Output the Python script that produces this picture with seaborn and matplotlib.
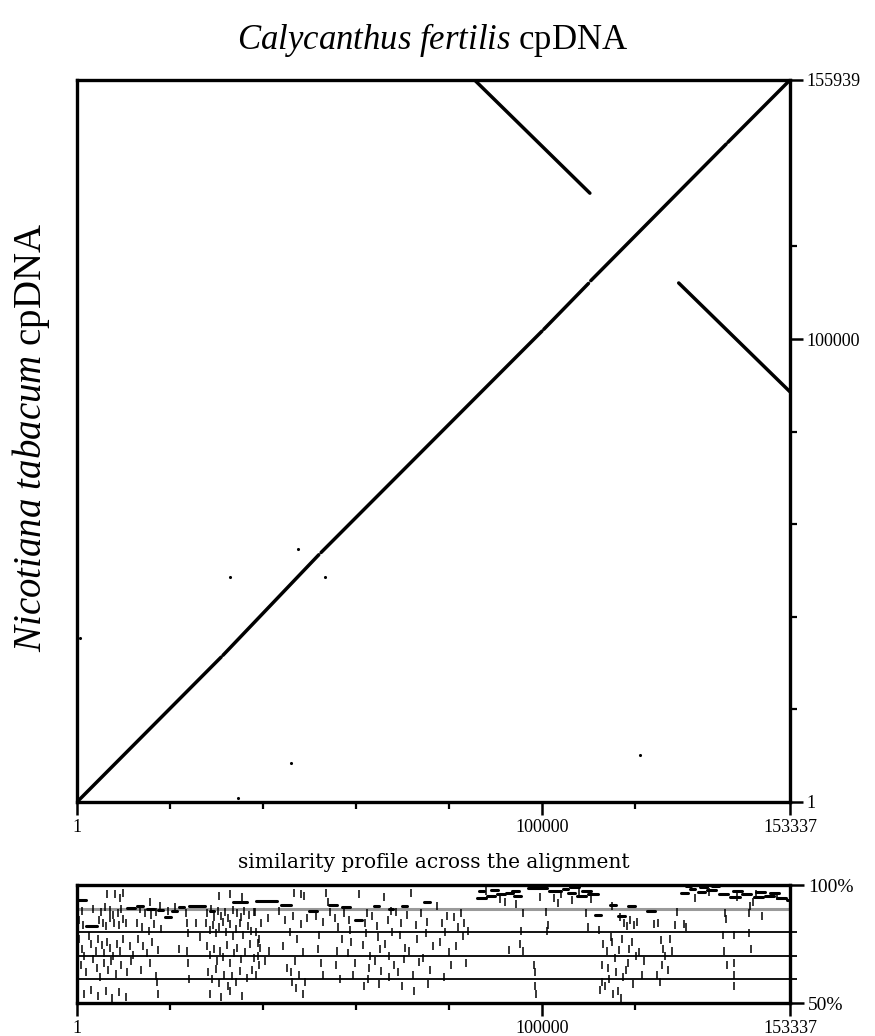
import matplotlib
matplotlib.use("Agg")
import matplotlib.pyplot as plt
import numpy as np
import pandas as pd
import seaborn as sns

# ---------------- data ----------------
X_LEN = 153337   # Calycanthus fertilis cpDNA length
Y_LEN = 155939   # Nicotiana tabacum cpDNA length

x_ticks_major = [1, 100000, 153337]
x_ticks_minor = [20000, 40000, 60000, 80000, 120000]
y_ticks_major = [1, 100000, 155939]
y_ticks_minor = [20000, 40000, 60000, 80000, 120000]
x_tick_labels = ["1", "100000", "153337"]
y_tick_labels = ["1", "100000", "155939"]

# dot-plot alignment segments (kb): main diagonal pieces + inverted repeats
seg_x_start = [0.0, 31.4, 52.5, 100.4, 110.5, 140.0, 85.5, 129.4]
seg_x_end   = [31.0, 52.0, 100.0, 110.0, 139.6, 153.337, 110.3, 153.337]
seg_y_start = [0.0, 31.7, 53.9, 102.1, 112.6, 142.5, 155.939, 112.1]
seg_y_end   = [31.3, 53.4, 101.7, 112.0, 142.1, 155.939, 131.5, 88.6]

# isolated small matches (kb)
speck_x = [32.9, 47.5, 53.3, 46.0, 121.1, 34.6, 0.6]
speck_y = [48.6, 54.6, 48.6, 8.4, 10.2, 0.9, 35.4]

# similarity profile: longer gap-free segments (kb start, kb end, % identity)
prof_seg_start = [0.0, 2.0, 10.7, 13.0, 15.0, 17.5, 18.9, 20.5, 22.0, 24.0, 28.5, 33.5,
                  38.6, 43.8, 49.9, 54.2, 56.9, 59.7, 63.9, 67.0, 70.0, 74.6, 86.0, 88.2,
                  90.3, 92.2, 94.0, 97.0, 101.5, 105.5, 107.5, 110.0, 111.5, 114.6, 116.4,
                  118.5, 122.5, 130.0, 131.8, 133.5, 135.5, 138.0, 140.5, 143.0, 145.5,
                  148.0, 150.5, 152.6,
                  86.5, 89.0, 93.5, 99.0, 104.5, 106.0, 108.5, 131.0, 134.0, 136.5,
                  141.0, 146.0, 149.0]
prof_seg_end = [2.0, 4.3, 12.5, 14.2, 16.5, 18.5, 20.2, 21.5, 23.0, 27.5, 29.5, 36.5,
                43.0, 46.0, 51.7, 56.0, 58.7, 61.2, 65.0, 68.0, 71.0, 76.0, 88.0, 90.0,
                92.0, 93.8, 95.5, 101.0, 104.0, 107.0, 109.5, 112.0, 112.6, 116.0, 117.8,
                120.0, 124.3, 131.5, 133.0, 135.0, 137.5, 140.0, 142.5, 145.0, 147.5,
                150.0, 152.5, 153.3,
                87.5, 90.5, 95.0, 100.5, 105.5, 108.0, 110.5, 132.0, 135.5, 138.0,
                143.0, 148.0, 151.0]
prof_seg_pct = [93.5, 82.6, 90.3, 91.0, 90.0, 89.5, 86.6, 89.0, 90.5, 91.3, 89.0, 93.0,
                93.3, 91.5, 89.0, 91.5, 90.5, 85.0, 91.0, 90.0, 91.0, 93.0, 94.5, 95.3,
                96.0, 96.5, 95.5, 98.7, 97.5, 96.5, 95.5, 96.0, 87.5, 91.5, 87.0,
                91.0, 89.0, 96.5, 98.5, 97.0, 98.0, 96.0, 95.0, 96.0, 95.0,
                95.5, 94.5, 93.5,
                97.5, 98.0, 97.5, 99.3, 98.5, 99.0, 97.5, 99.5, 99.0, 99.5,
                97.5, 97.0, 96.5]

# similarity profile: short segments (kb position, % identity)
prof_dot_kb = [
    6.4, 8.2, 9.2, 9.9, 1.0, 3.5, 5.2, 6.0, 7.0, 7.8, 8.8, 9.5,
    0.5, 1.2, 4.8, 5.6, 6.3, 7.2, 8.0, 9.0, 9.8, 10.5,
    0.4, 1.0, 1.5, 2.5, 3.1, 4.0, 4.6, 5.3, 5.9, 6.5, 7.1, 7.8, 8.5, 9.2, 10.0, 11.5, 12.1,
    0.8, 2.0, 3.5, 4.2, 5.0, 5.8, 6.6, 7.4, 8.3, 9.5, 10.8, 11.6,
    1.5, 3.0, 4.5, 6.2, 7.5, 9.0, 10.5,
    15.6, 17.8, 13.5, 14.6, 16.0, 17.0, 19.5, 13.0, 14.0, 15.5, 16.5, 18.0,
    13.2, 14.3, 15.0, 16.2, 17.5, 13.8, 15.8, 17.0, 17.3, 17.5,
    21.0, 22.0, 23.4, 23.6, 23.8, 23.7, 23.9, 24.0, 25.5, 26.5,
    30.5, 33.0, 35.5,
    28.0, 28.8, 29.5, 30.3, 31.0, 31.8, 32.5, 33.5, 34.5, 35.2, 36.0, 37.0, 38.0,
    27.8, 28.5, 29.2, 30.0, 30.6, 31.3, 32.0, 32.8, 33.6, 34.3, 35.0, 35.8, 36.7, 37.5,
    28.0, 28.7, 29.4, 30.1, 30.8, 31.5, 32.2, 33.0, 33.8, 34.5, 35.3, 36.2, 37.2, 38.0,
    28.2, 29.0, 29.8, 30.6, 31.6, 32.5, 33.4, 34.2, 35.1, 36.5, 37.6,
    28.5, 31.0, 33.0, 35.5,
    38.2, 39.0, 39.5, 40.5, 41.0, 41.2, 38.5, 39.2, 39.4, 38.9, 39.1, 38.4,
    43.5, 44.2, 44.8, 45.2, 45.8, 46.2, 46.5, 46.9, 47.3, 47.8, 48.2, 48.5, 49.0, 49.5,
    46.0, 47.0, 48.6, 46.7, 48.1, 48.8,
    51.5, 52.5, 52.0, 53.0, 52.8, 51.8, 53.5, 54.0, 54.5,
    55.5, 56.0, 56.5, 56.2, 55.8, 57.0,
    57.5, 58.2, 58.8, 59.3, 59.0, 58.6, 59.8,
    60.7, 61.5, 62.0, 62.5, 62.2, 62.8, 62.4, 63.0, 61.8,
    63.5, 64.0, 64.5, 65.0, 64.8, 65.4, 65.2,
    66.0, 66.3, 66.8, 67.2, 67.6, 67.0, 67.8, 68.2,
    68.6, 69.0, 69.5, 70.0, 69.6, 70.3, 70.6,
    71.0, 71.5, 71.8, 72.2, 72.8, 72.5, 73.2, 73.6,
    74.0, 74.5, 75.0, 75.5, 75.3, 76.0, 76.5,
    77.5, 78.0, 78.5, 79.0, 79.5, 80.0, 79.2, 80.5, 81.0, 81.5, 82.0, 82.5, 83.0,
    83.3, 83.6, 84.0,
    95.9, 100.9, 101.2, 95.5, 95.2, 93.0, 96.0, 98.2, 98.4, 98.6, 98.8, 101.0,
    109.5, 110.0, 92.0, 94.5,
    88.0, 91.0, 99.5, 102.5, 104.0, 106.5, 108.0, 110.5, 103.5,
    112.3, 112.8, 113.2, 113.6, 114.0, 114.4, 114.8, 115.2, 115.6, 116.0, 113.0, 114.2,
    115.0, 116.5, 112.5,
    115.0, 116.8, 117.6, 118.3, 119.0, 119.8, 120.5, 117.2, 118.0, 118.8, 119.5, 120.2,
    117.5, 118.5, 119.3, 120.8, 121.5, 122.0, 116.4, 117.0,
    124.0, 125.0, 125.5, 125.8, 126.0, 126.5, 124.8, 125.4, 127.5, 128.0, 127.2, 129.0,
    128.5, 130.5, 131.0,
    139.3, 139.5, 139.0, 141.2, 144.5, 139.2, 145.0, 139.8, 141.2, 141.3, 141.4, 144.5,
    147.4, 145.3, 144.8, 146.0, 150.5, 142.0, 136.0, 133.0,
]
prof_dot_pct = [
    96.0, 96.3, 94.5, 96.8, 89.0, 90.0, 88.5, 90.5, 89.5, 87.5, 88.0, 90.0,
    85.0, 83.0, 85.0, 84.0, 82.5, 86.0, 84.0, 83.0, 85.5, 84.0,
    77.0, 73.0, 70.0, 78.5, 75.0, 72.0, 77.0, 74.5, 71.0, 76.0, 73.5, 70.0, 75.0, 72.0, 77.0, 74.0, 70.5,
    66.0, 63.0, 68.5, 65.0, 61.0, 67.0, 64.0, 68.0, 62.5, 66.0, 63.0, 68.0,
    54.0, 55.5, 53.0, 55.0, 52.0, 54.5, 52.5,
    93.0, 91.0, 90.0, 88.0, 87.5, 88.5, 89.0, 84.0, 82.0, 80.5, 83.5, 81.5,
    77.0, 74.0, 71.0, 76.0, 72.5, 64.0, 67.0, 61.5, 59.0, 54.0,
    90.5, 73.0, 88.0, 84.0, 79.5, 72.0, 67.0, 60.0, 84.0, 78.0,
    95.5, 96.0, 95.0,
    88.0, 90.0, 86.5, 89.0, 87.0, 88.5, 86.0, 89.5, 88.0, 86.5, 89.0, 87.5, 88.5,
    84.0, 81.0, 83.0, 79.5, 82.0, 84.5, 80.0, 83.5, 78.5, 81.5, 84.0, 79.0, 82.5, 80.5,
    74.0, 70.5, 73.0, 68.0, 72.0, 69.5, 74.5, 67.0, 71.0, 73.5, 68.5, 71.5, 75.0, 69.0,
    63.0, 60.0, 64.5, 58.5, 62.0, 57.0, 61.5, 59.0, 63.5, 60.5, 64.0,
    54.0, 52.5, 55.0, 53.0,
    88.5, 75.5, 84.0, 68.0, 86.0, 72.0, 80.0, 77.0, 73.5, 70.0, 66.0, 62.0,
    89.0, 74.0, 85.0, 65.0, 80.0, 59.0, 87.0, 68.0, 77.0, 62.0, 83.5, 71.5, 59.0, 86.0,
    63.0, 56.5, 54.0, 96.5, 96.0, 95.3,
    87.0, 67.0, 79.0, 62.0, 84.5, 73.0, 96.5, 93.0, 88.5,
    86.0, 72.0, 60.0, 82.0, 66.0, 77.0,
    88.0, 71.0, 81.0, 62.0, 76.0, 85.0, 67.0,
    96.0, 74.5, 84.0, 60.0, 79.5, 65.0, 88.0, 70.0, 57.0,
    87.0, 68.0, 82.5, 58.0, 78.0, 63.5, 73.0,
    94.8, 75.0, 85.0, 61.0, 89.0, 70.0, 80.0, 66.0,
    88.5, 63.0, 79.0, 57.0, 84.0, 68.5, 73.5,
    87.5, 72.0, 96.5, 62.0, 83.0, 55.0, 77.0, 67.5,
    88.0, 69.0, 79.5, 58.0, 84.5, 64.0, 74.0,
    91.0, 76.0, 84.0, 61.0, 87.0, 71.5, 80.0, 66.0, 86.5, 74.0, 82.0, 88.0, 78.5,
    84.0, 67.0, 80.5,
    88.0, 88.5, 83.0, 80.5, 75.0, 72.5, 72.0, 66.0, 63.0, 57.0, 54.0, 80.5,
    88.0, 82.0, 93.0, 92.0,
    97.5, 94.0, 95.0, 94.5, 96.0, 93.5, 97.0, 94.0, 92.5,
    81.0, 66.0, 75.0, 57.0, 72.0, 60.0, 78.0, 54.0, 69.0, 63.0, 59.0, 65.0,
    76.0, 72.5, 55.5,
    91.0, 86.5, 84.0, 82.5, 85.0, 83.0, 84.5, 77.0, 64.0, 73.0, 58.0, 70.0,
    61.0, 67.0, 76.0, 71.5, 62.0, 68.0, 55.0, 52.0,
    83.5, 84.0, 76.5, 66.0, 73.0, 70.0, 62.0, 59.0, 77.0, 72.0, 64.0, 88.5,
    83.0, 83.5, 82.0,
    88.0, 85.5, 79.0, 79.0, 79.5, 72.0, 73.0, 66.0, 67.0, 62.0, 57.0, 88.0,
    87.0, 93.0, 91.0, 96.0, 95.5, 95.0, 97.0, 94.5,
]

# ---------------- styling ----------------
sns.set_theme(style="white")
plt.rcParams['font.family'] = ['Liberation Serif', 'DejaVu Serif']
plt.rcParams['mathtext.fontset'] = 'custom'
plt.rcParams['mathtext.it'] = 'Liberation Serif:italic'
plt.rcParams['mathtext.rm'] = 'Liberation Serif'
for key in ("text.color", "axes.labelcolor", "xtick.color", "ytick.color"):
    plt.rcParams[key] = "black"

W, H = 875, 1036
fig = plt.figure(figsize=(W / 100, H / 100), dpi=100)
fig.patch.set_facecolor("white")

def px_axes(l, t, r, b):
    return fig.add_axes([l / W, 1 - b / H, (r - l) / W, (b - t) / H])

ax = px_axes(77, 80, 790, 802)
axp = px_axes(77, 885, 790, 1003)

# ---------------- dot plot ----------------
rows = []
for i in range(len(seg_x_start)):
    rows.append((i, seg_x_start[i] * 1000, seg_y_start[i] * 1000))
    rows.append((i, seg_x_end[i] * 1000, seg_y_end[i] * 1000))
df_seg = pd.DataFrame(rows, columns=["seg", "x", "y"])
sns.lineplot(data=df_seg, x="x", y="y", units="seg", estimator=None, sort=False,
             color="black", linewidth=2.5, ax=ax)
df_speck = pd.DataFrame({"x": np.array(speck_x) * 1000, "y": np.array(speck_y) * 1000})
sns.scatterplot(data=df_speck, x="x", y="y", color="black", s=5, marker="o",
                linewidth=0, ax=ax)

ax.set_xlim(1, X_LEN)
ax.set_ylim(1, Y_LEN)
ax.set_xlabel("")
ax.set_ylabel("")

for a in (ax, axp):
    for sp in a.spines.values():
        sp.set_visible(True)
        sp.set_color("black")
        sp.set_linewidth(2.4)
    a.set_facecolor("white")
    a.grid(False)
    a.set_xticks(x_ticks_major)
    a.set_xticklabels(x_tick_labels)
    a.set_xticks(x_ticks_minor, minor=True)
    a.tick_params(axis="x", which="major", direction="out", length=9, width=1.8,
                  labelsize=13, pad=3, colors="black", bottom=True)
    a.tick_params(axis="x", which="minor", direction="out", length=5, width=1.6,
                  colors="black", bottom=True)

ax.yaxis.tick_right()
ax.set_yticks(y_ticks_major)
ax.set_yticklabels(y_tick_labels)
ax.set_yticks(y_ticks_minor, minor=True)
ax.tick_params(axis="y", which="major", direction="out", length=9, width=1.8,
               labelsize=13, pad=3, colors="black", right=True, left=False)
ax.tick_params(axis="y", which="minor", direction="out", length=5, width=1.6,
               colors="black", right=True, left=False)

fig.text(433 / W, 1 - 40 / H, r"$\mathit{Calycanthus\ fertilis}$ cpDNA", fontsize=25,
         ha="center", va="center", color="black")
fig.text(31 / W, 1 - 437 / H, r"$\mathit{Nicotiana\ tabacum}$ cpDNA", fontsize=28,
         rotation=90, ha="center", va="center", color="black")

# ---------------- similarity profile ----------------
axp.set_xlim(1, X_LEN)
axp.set_ylim(50, 100)
for lev in (60, 70, 80):
    axp.axhline(lev, color="black", linewidth=1.3, zorder=1)
axp.axhline(90, color="#9a9a9a", linewidth=2.2, zorder=1)

rows = []
for i in range(len(prof_seg_start)):
    rows.append((i, prof_seg_start[i] * 1000, prof_seg_pct[i]))
    rows.append((i, prof_seg_end[i] * 1000, prof_seg_pct[i]))
df_pseg = pd.DataFrame(rows, columns=["seg", "x", "y"])
sns.lineplot(data=df_pseg, x="x", y="y", units="seg", estimator=None, sort=False,
             color="black", linewidth=2.2, ax=axp, zorder=3)
df_pdot = pd.DataFrame({"x": np.array(prof_dot_kb) * 1000, "y": prof_dot_pct})
sns.scatterplot(data=df_pdot, x="x", y="y", color="black", marker="|", s=30,
                linewidth=1.1, ax=axp, zorder=3)
axp.set_xlabel("")
axp.set_ylabel("")

axp.yaxis.tick_right()
axp.set_yticks([50, 100])
axp.set_yticklabels(["50%", "100%"])
axp.set_yticks([60, 70, 80], minor=True)
axp.tick_params(axis="y", which="major", direction="out", length=10, width=1.8,
                labelsize=14, pad=3, colors="black", right=True, left=False)
axp.tick_params(axis="y", which="minor", direction="out", length=5, width=1.3,
                colors="black", right=True, left=False)

fig.text((77 + 790) / 2 / W, 1 - 862 / H, "similarity profile across the alignment",
         fontsize=14.5, family=["DejaVu Serif"], ha="center", va="center", color="black")

fig.savefig("out.png", dpi=100, facecolor="white")
